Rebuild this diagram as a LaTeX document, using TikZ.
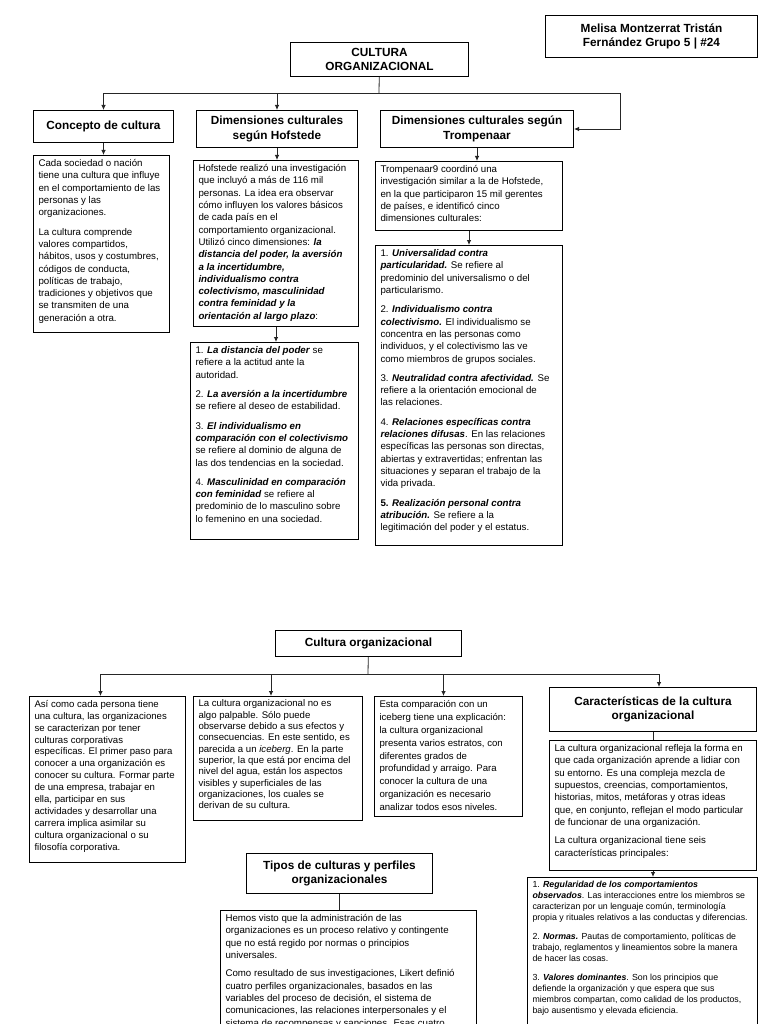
\documentclass[tikz,border=0pt]{standalone}
\usepackage{fontspec}
\setmainfont{Liberation Sans}
\usetikzlibrary{arrows.meta,calc}
\newcommand{\bi}[1]{\textbf{\textit{#1}}}
\newcommand{\panel}[3]{\parbox[t][#2][t]{#1}{\begin{tabular}[t]{@{}l@{}}#3\end{tabular}}}
\newcommand{\bodyfont}{\fontsize{9.7}{12.3}\selectfont}
\newcommand{\lowfont}[1]{\fontsize{9.6}{#1}\selectfont}
\newcommand{\smallfont}{\fontsize{8.8}{11}\selectfont}
\newcommand{\headfont}{\fontsize{11.8}{14.5}\selectfont\bfseries}

\begin{document}
\begin{tikzpicture}[x=1pt,y=-1pt,>={Latex[length=5pt,width=4.5pt]},
  head/.style={draw,line width=1pt,anchor=north west,align=center,font=\headfont,inner sep=1pt},
  txt/.style={draw,line width=1pt,anchor=north west,font=\bodyfont,inner xsep=5pt,inner ysep=2.5pt},
  link/.style={line width=0.8pt,black!85}]
  \useasboundingbox (0,0) rectangle (768,1024);
  \clip (0,0) rectangle (768,1024);

  % upper chart
  \node[head,minimum width=212,minimum height=42] (author) at (545,15)
    {Melisa Montzerrat Tristán\\Fernández Grupo 5 | \#24};
  \node[head,minimum width=178,minimum height=34] (culturaorg) at (290,42)
    {CULTURA\\ORGANIZACIONAL};
  \node[head,minimum width=140,minimum height=32] (concepto) at (33,110)
    {Concepto de cultura};
  \node[head,minimum width=161,minimum height=37] (hofs) at (196,110)
    {Dimensiones culturales\\según Hofstede};
  \node[head,minimum width=193,minimum height=37] (tromp) at (380,110)
    {Dimensiones culturales según\\Trompenaar};

  \node[txt] (conctxt) at (33,155) {\panel{126pt}{172pt}{%
    Cada sociedad o nación\\
    tiene una cultura que influye\\
    en el comportamiento de las\\
    personas y las\\
    organizaciones.\\[7pt]
    La cultura comprende\\
    valores compartidos,\\
    hábitos, usos y costumbres,\\
    códigos de conducta,\\
    políticas de trabajo,\\
    tradiciones y objetivos que\\
    se transmiten de una\\
    generación a otra.}};
  \node[txt] (hofstxt) at (193,160) {\panel{155pt}{161pt}{%
    Hofstede realizó una investigación\\
    que incluyó a más de 116 mil\\
    personas. La idea era observar\\
    cómo influyen los valores básicos\\
    de cada país en el\\
    comportamiento organizacional.\\
    Utilizó cinco dimensiones: \bi{la}\\
    \bi{distancia del poder, la aversión}\\
    \bi{a la incertidumbre,}\\
    \bi{individualismo contra}\\
    \bi{colectivismo, masculinidad}\\
    \bi{contra feminidad y la}\\
    \bi{orientación al largo plazo}:}};
  \node[txt] (hofslist) at (190,342) {\panel{158pt}{192pt}{%
    1. \bi{La distancia del poder} se\\
    refiere a la actitud ante la\\
    autoridad.\\[7pt]
    2. \bi{La aversión a la incertidumbre}\\
    se refiere al deseo de estabilidad.\\[7pt]
    3. \bi{El individualismo en}\\
    \bi{comparación con el colectivismo}\\
    se refiere al dominio de alguna de\\
    las dos tendencias en la sociedad.\\[7pt]
    4. \bi{Masculinidad en comparación}\\
    \bi{con feminidad} se refiere al\\
    predominio de lo masculino sobre\\
    lo femenino en una sociedad.}};
  \node[txt] (tromptxt) at (375,161) {\panel{177pt}{64pt}{%
    Trompenaar9 coordinó una\\
    investigación similar a la de Hofstede,\\
    en la que participaron 15 mil gerentes\\
    de países, e identificó cinco\\
    dimensiones culturales:}};
  \node[txt] (tromplist) at (375,245) {\panel{177pt}{295pt}{%
    1. \bi{Universalidad contra}\\
    \bi{particularidad.} Se refiere al\\
    predominio del universalismo o del\\
    particularismo.\\[7pt]
    2. \bi{Individualismo contra}\\
    \bi{colectivismo.} El individualismo se\\
    concentra en las personas como\\
    individuos, y el colectivismo las ve\\
    como miembros de grupos sociales.\\[7pt]
    3. \bi{Neutralidad contra afectividad.} Se\\
    refiere a la orientación emocional de\\
    las relaciones.\\[7pt]
    4. \bi{Relaciones específicas contra}\\
    \bi{relaciones difusas}. En las relaciones\\
    específicas las personas son directas,\\
    abiertas y extravertidas; enfrentan las\\
    situaciones y separan el trabajo de la\\
    vida privada.\\[7pt]
    \textbf{5.} \bi{Realización personal contra}\\
    \bi{atribución.} Se refiere a la\\
    legitimación del poder y el estatus.}};

  \coordinate (jtop) at (379,93);
  \coordinate (rtop) at (620,93);
  \draw[link] (culturaorg) -- (jtop);
  \draw[link,->] (jtop) -| (concepto);
  \draw[link,->] (jtop) -| (hofs);
  \draw[link,->] (jtop) -- (rtop) |- (tromp);
  \draw[link,->] (concepto.south) -- (concepto.south |- conctxt.north);
  \draw[link,->] (hofs.south) -- (hofs.south |- hofstxt.north);
  \draw[link,->] (hofstxt.south) -- (hofstxt.south |- hofslist.north);
  \draw[link,->] (tromp.south) -- (tromp.south |- tromptxt.north);
  \draw[link,->] (tromptxt.south) -- (tromptxt.south |- tromplist.north);

  % lower chart
  \node[head,minimum width=186,minimum height=26] (culturabaja) at (275,630)
    {Cultura organizacional};
  \node[txt,font=\lowfont{11.9}] (asi) at (29,696) {\panel{146pt}{161pt}{%
    Así como cada persona tiene\\
    una cultura, las organizaciones\\
    se caracterizan por tener\\
    culturas corporativas\\
    específicas. El primer paso para\\
    conocer a una organización es\\
    conocer su cultura. Formar parte\\
    de una empresa, trabajar en\\
    ella, participar en sus\\
    actividades y desarrollar una\\
    carrera implica asimilar su\\
    cultura organizacional o su\\
    filosofía corporativa.}};
  \node[txt,font=\lowfont{11.3}] (iceberg) at (193,696) {\panel{159pt}{119pt}{%
    La cultura organizacional no es\\
    algo palpable. Sólo puede\\
    observarse debido a sus efectos y\\
    consecuencias. En este sentido, es\\
    parecida a un \textit{iceberg}. En la parte\\
    superior, la que está por encima del\\
    nivel del agua, están los aspectos\\
    visibles y superficiales de las\\
    organizaciones, los cuales se\\
    derivan de su cultura.}};
  \node[txt,font=\lowfont{12.8}] (estratos) at (374,696) {\panel{138pt}{115pt}{%
    Esta comparación con un\\
    iceberg tiene una explicación:\\
    la cultura organizacional\\
    presenta varios estratos, con\\
    diferentes grados de\\
    profundidad y arraigo. Para\\
    conocer la cultura de una\\
    organización es necesario\\
    analizar todos esos niveles.}};
  \node[head,minimum width=207,minimum height=44] (caract) at (549,687)
    {Características de la cultura\\organizacional};
  \node[txt] (caracttxt) at (549,740) {\panel{197pt}{125pt}{%
    La cultura organizacional refleja la forma en\\
    que cada organización aprende a lidiar con\\
    su entorno. Es una compleja mezcla de\\
    supuestos, creencias, comportamientos,\\
    historias, mitos, metáforas y otras ideas\\
    que, en conjunto, reflejan el modo particular\\
    de funcionar de una organización.\\[6pt]
    La cultura organizacional tiene seis\\
    características principales:}};
  \node[txt,font=\smallfont] (caractlist) at (527,877) {\panel{220pt}{200pt}{%
    1. \bi{Regularidad de los comportamientos}\\
    \bi{observados}. Las interacciones entre los miembros se\\
    caracterizan por un lenguaje común, terminología\\
    propia y rituales relativos a las conductas y diferencias.\\[8pt]
    2. \bi{Normas.} Pautas de comportamiento, políticas de\\
    trabajo, reglamentos y lineamientos sobre la manera\\
    de hacer las cosas.\\[8pt]
    3. \bi{Valores dominantes}. Son los principios que\\
    defiende la organización y que espera que sus\\
    miembros compartan, como calidad de los productos,\\
    bajo ausentismo y elevada eficiencia.}};
  \node[head,minimum width=186,minimum height=40] (tipos) at (246,853)
    {Tipos de culturas y perfiles\\organizacionales};
  \node[txt] (tipostxt) at (220,910) {\panel{246pt}{160pt}{%
    Hemos visto que la administración de las\\
    organizaciones es un proceso relativo y contingente\\
    que no está regido por normas o principios\\
    universales.\\[6pt]
    Como resultado de sus investigaciones, Likert definió\\
    cuatro perfiles organizacionales, basados en las\\
    variables del proceso de decisión, el sistema de\\
    comunicaciones, las relaciones interpersonales y el\\
    sistema de recompensas y sanciones. Esas cuatro}};

  \coordinate (jbot) at (368,674);
  \coordinate (rbot) at (659,674);
  \draw[link] (culturabaja) -- (jbot);
  \draw[link,->] (jbot) -| ([xshift=-7pt]asi.north);
  \draw[link,->] (jbot) -| ([xshift=-7pt]iceberg.north);
  \draw[link,->] (jbot) -| ([xshift=-5pt]estratos.north);
  \draw[link,->] (jbot) -- (rbot) -- (rbot |- caract.north);
  \draw[link] (caract.south) -- (caract.south |- caracttxt.north);
  \draw[link,->] (caracttxt.south) -- (caracttxt.south |- caractlist.north);
  \draw[link] (tipos.south) -- (tipos.south |- tipostxt.north);
\end{tikzpicture}
\end{document}
